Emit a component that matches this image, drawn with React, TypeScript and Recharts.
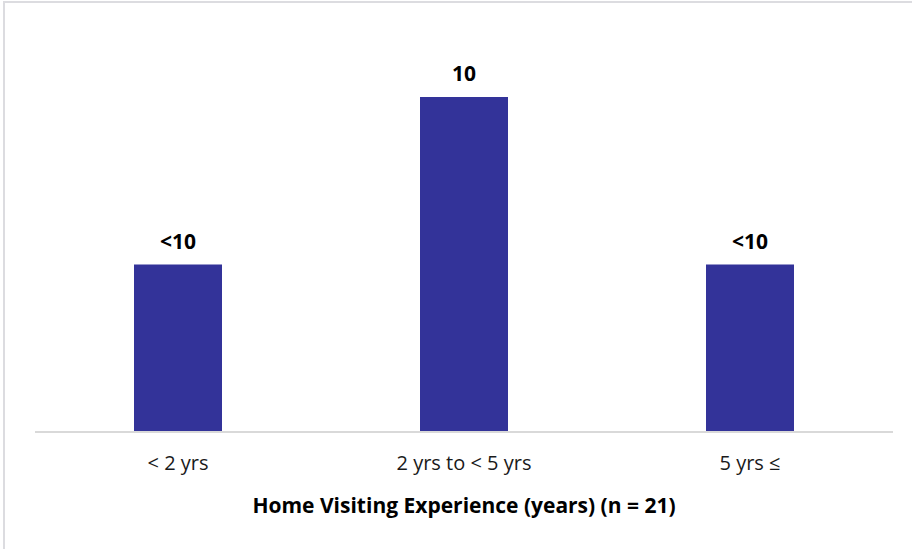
import { BarChart, Bar, XAxis, YAxis, LabelList, Label } from "recharts";

const categories = ["< 2 yrs", "2 yrs to < 5 yrs", "5 yrs \u2264"];
const counts = [5, 10, 5];
const countLabels = ["<10", "10", "<10"];

const data = categories.map((name, i) => ({
  name,
  value: counts[i],
  label: countLabels[i],
}));

const font = "'Open Sans', 'Liberation Sans', sans-serif";

export default function App() {
  return (
    <div style={{ position: "absolute", left: 0, top: 0, width: 912, height: 549, background: "white" }}>
      <div
        style={{
          position: "absolute",
          left: 3,
          top: 1,
          width: 909,
          height: 548,
          borderTop: "2px solid #dcdce0",
          borderLeft: "2px solid #dcdce0",
          boxSizing: "border-box",
        }}
      />
      <div style={{ position: "absolute", left: 0, top: 0 }}>
        <BarChart
          width={912}
          height={549}
          data={data}
          margin={{ top: 30, right: 19, bottom: 0, left: 35 }}
        >
          <XAxis
            dataKey="name"
            height={117}
            axisLine={{ stroke: "#d9d9d9", strokeWidth: 2 }}
            tickLine={false}
            tickSize={0}
            tickMargin={24}
            tick={{ fill: "#1a1a1a", fontSize: 20, fontFamily: font }}
          >
            <Label
              value="Home Visiting Experience (years) (n = 21)"
              position="insideBottom"
              offset={36}
              style={{ fill: "#000", fontSize: 21, fontWeight: 700, fontFamily: font }}
            />
          </XAxis>
          <YAxis hide domain={[0, 12]} />
          <Bar dataKey="value" fill="#333399" barSize={88} isAnimationActive={false}>
            <LabelList
              dataKey="label"
              position="top"
              offset={16}
              style={{ fill: "#000", fontSize: 21, fontWeight: 700, fontFamily: font }}
            />
          </Bar>
        </BarChart>
      </div>
    </div>
  );
}
